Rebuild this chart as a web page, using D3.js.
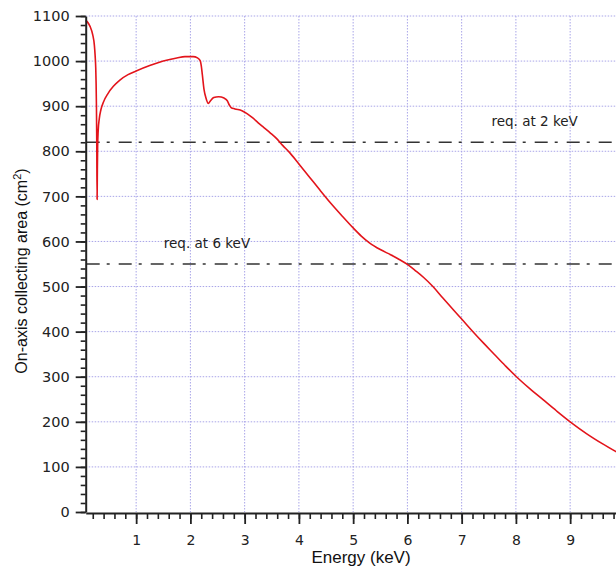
<!DOCTYPE html>
<html>
<head>
<meta charset="utf-8">
<script src="https://cdn.jsdelivr.net/npm/d3@7"></script>
<style>
  html, body { margin: 0; padding: 0; background: #fff; }
  svg { display: block; }
</style>
</head>
<body>
<svg id="chart" width="616" height="570"></svg>
<script>
// ---- data ----
const energy = [0.07, 0.10, 0.15, 0.20, 0.23, 0.245, 0.255, 0.262, 0.268, 0.274, 0.28, 0.285, 0.29, 0.30, 0.32, 0.35, 0.40, 0.48, 0.58, 0.70, 0.85, 1.0, 1.25, 1.5, 1.75, 1.9, 2.05, 2.13, 2.18, 2.20, 2.22, 2.25, 2.29, 2.33, 2.37, 2.43, 2.52, 2.62, 2.68, 2.72, 2.75, 2.82, 2.95, 3.05, 3.15, 3.25, 3.35, 3.47, 3.59, 3.70, 3.83, 4.0, 4.2, 4.4, 4.6, 4.8, 5.0, 5.15, 5.3, 5.5, 5.7, 5.85, 6.0, 6.15, 6.3, 6.47, 6.65, 6.85, 7.0, 7.2, 7.4, 7.6, 7.8, 8.0, 8.25, 8.5, 8.75, 9.0, 9.3, 9.6, 9.9];
const area = [1090, 1087, 1077, 1058, 1035, 1010, 985, 950, 900, 820, 693, 760, 810, 845, 872, 892, 910, 928, 944, 958, 970, 978, 990, 1000, 1007, 1010, 1010, 1007, 1001, 990, 970, 938, 917, 906, 912, 919, 921, 918, 912, 902, 897, 894, 890, 883, 874, 863, 853, 841, 828, 813, 797, 772, 742, 712, 683, 656, 630, 612, 597, 582, 570, 560, 549, 535, 520, 500, 475, 448, 428, 401, 375, 350, 325, 301, 274, 249, 224, 200, 174, 151, 130];

const reqValues = [820, 550];
const reqLabels = ["req. at 2 keV", "req. at 6 keV"];
const reqLabelEnergy = [7.55, 1.51];

const xTicks = [1, 2, 3, 4, 5, 6, 7, 8, 9];
const yTicks = [0, 100, 200, 300, 400, 500, 600, 700, 800, 900, 1000, 1100];

const xTitle = "Energy (keV)";
const yTitle = "On-axis collecting area (cm";

// ---- layout ----
const svg = d3.select("#chart");
const x0 = 85.7;
const x = d3.scaleLinear().domain([0.07, 10]).range([x0, x0 + 9.93 * 54.25]);
const y = d3.scaleLinear().domain([0, 1100]).range([512, 16]);
const xMax = 616;

const gridColor = "#a9a5e8";

// grid
const grid = svg.append("g");
grid.selectAll("line.h").data(yTicks.filter(d => d > 0)).join("line")
  .attr("x1", x0).attr("x2", xMax)
  .attr("y1", d => y(d)).attr("y2", d => y(d))
  .attr("stroke", gridColor).attr("stroke-width", 1).attr("stroke-dasharray", "1.5,1.5");
grid.selectAll("line.v").data(xTicks).join("line")
  .attr("x1", d => x(d)).attr("x2", d => x(d))
  .attr("y1", y(1100)).attr("y2", y(0))
  .attr("stroke", gridColor).attr("stroke-width", 1).attr("stroke-dasharray", "1.5,1.5");

// requirement lines
svg.append("g").selectAll("line").data(reqValues).join("line")
  .attr("x1", x0 + 1).attr("x2", xMax)
  .attr("y1", d => y(d)).attr("y2", d => y(d))
  .attr("stroke", "#333").attr("stroke-width", 1.5)
  .attr("stroke-dasharray", "13,7,3,9");

svg.append("g").selectAll("text").data(reqValues).join("text")
  .attr("x", (d, i) => x(reqLabelEnergy[i]))
  .attr("y", d => y(d) - 16)
  .attr("font-family", "DejaVu Sans")
  .attr("font-size", "13.5px")
  .attr("fill", "#222")
  .text((d, i) => reqLabels[i]);

// curve
const pts = energy.map((e, i) => [e, area[i]]);
svg.append("path")
  .datum(pts)
  .attr("fill", "none")
  .attr("stroke", "#e3141b")
  .attr("stroke-width", 1.6)
  .attr("stroke-linejoin", "round")
  .attr("d", d3.line().x(d => x(d[0])).y(d => y(d[1])).curve(d3.curveMonotoneX));

// axes
const axisColor = "#222";
// y minor
const yMinor = d3.range(0, 1101, 20);
svg.append("g").attr("transform", `translate(${x0},0)`)
  .call(d3.axisLeft(y).tickValues(yMinor).tickSize(5).tickFormat(""))
  .call(g => g.select(".domain").remove())
  .call(g => g.selectAll("line").attr("stroke", axisColor).attr("stroke-width", 1.6));
// y major
const yAxis = svg.append("g").attr("transform", `translate(${x0},0)`)
  .call(d3.axisLeft(y).tickValues(yTicks).tickSize(10).tickPadding(6).tickSizeOuter(0).tickFormat(d3.format("d")));
yAxis.select(".domain").attr("stroke", axisColor).attr("stroke-width", 2);
yAxis.selectAll("line").attr("stroke", axisColor).attr("stroke-width", 1.8);
yAxis.selectAll("text").attr("font-family", "DejaVu Sans").attr("font-size", "14.5px").attr("fill", "#222");

// x minor
const xMinor = d3.range(1, 50).map(i => i * 0.2);
svg.append("g").attr("transform", "translate(0,513)")
  .call(d3.axisBottom(x).tickValues(xMinor).tickSize(6).tickFormat(""))
  .call(g => g.select(".domain").remove())
  .call(g => g.selectAll("line").attr("stroke", axisColor).attr("stroke-width", 1.6));
// x major
const xAxis = svg.append("g").attr("transform", "translate(0,513)")
  .call(d3.axisBottom(x).tickValues(xTicks).tickSize(11).tickSizeOuter(0).tickFormat(d3.format("d")));
xAxis.select(".domain").attr("stroke", axisColor).attr("stroke-width", 2);
xAxis.selectAll("line").attr("stroke", axisColor).attr("stroke-width", 1.8);
xAxis.selectAll("text").attr("font-family", "DejaVu Sans").attr("font-size", "14px").attr("fill", "#222")
  .attr("y", 31.5).attr("dy", 0);

// titles
svg.append("text")
  .attr("x", 361).attr("y", 563)
  .attr("text-anchor", "middle")
  .attr("font-family", "Liberation Sans")
  .attr("font-size", "17px")
  .attr("fill", "#111")
  .text(xTitle);

const yt = svg.append("text")
  .attr("transform", "translate(27,271) rotate(-90)")
  .attr("text-anchor", "middle")
  .attr("font-family", "Liberation Sans")
  .attr("font-size", "16px")
  .attr("fill", "#111");
yt.append("tspan").text(yTitle);
yt.append("tspan").attr("font-size", "11px").attr("dy", "-6").text("2");
yt.append("tspan").attr("dy", "6").text(")");
</script>
</body>
</html>
